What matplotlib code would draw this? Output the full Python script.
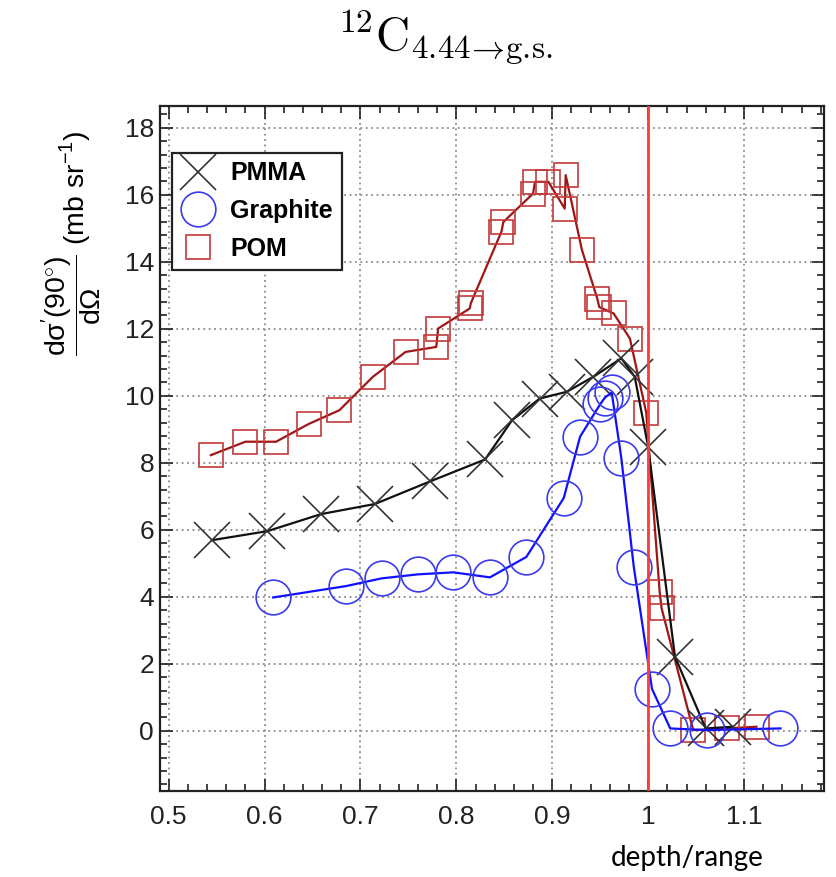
"""12C 4.44 MeV gamma line vs depth/range for three targets
"""

import numpy as np
import matplotlib
matplotlib.use('Agg')
import matplotlib.pyplot as plt
from matplotlib.ticker import MultipleLocator

plt.rcParams['font.family'] = ['Liberation Sans', 'DejaVu Sans']
plt.rcParams['mathtext.fontset'] = 'custom'
plt.rcParams['mathtext.rm'] = 'Liberation Sans'
plt.rcParams['mathtext.it'] = 'Liberation Sans:italic'

# PMMA (crosses)
pmma_x = [0.545, 0.603, 0.659, 0.715, 0.773, 0.830, 0.858, 0.887, 0.915,
          0.943, 0.972, 0.986, 1.000, 1.028, 1.060, 1.088]
pmma_y = [5.69, 5.96, 6.47, 6.77, 7.45, 8.10, 9.27, 9.92, 10.12,
          10.57, 11.12, 10.57, 8.48, 2.21, 0.07, 0.12]

# Graphite (circles)
graph_x = [0.609, 0.685, 0.722, 0.760, 0.797, 0.835, 0.873, 0.912, 0.929,
           0.950, 0.955, 0.962, 0.972, 0.985, 1.004, 1.023, 1.061, 1.138]
graph_y = [3.98, 4.32, 4.55, 4.67, 4.73, 4.58, 5.19, 6.95, 8.78,
           9.75, 9.95, 10.10, 8.15, 4.90, 1.25, 0.07, 0.02, 0.07]

# POM (squares)
pom_x = [0.544, 0.580, 0.612, 0.646, 0.678, 0.713, 0.747, 0.779, 0.781,
         0.814, 0.815, 0.847, 0.849, 0.880, 0.882, 0.896, 0.913, 0.914,
         0.931, 0.947, 0.949, 0.964, 0.981, 0.998, 1.012, 1.014, 1.047,
         1.082, 1.113]
pom_y = [8.23, 8.63, 8.63, 9.16, 9.57, 10.57, 11.31, 11.46, 12.01,
         12.61, 12.76, 14.90, 15.19, 16.04, 16.39, 16.39, 15.59, 16.59,
         14.35, 12.90, 12.65, 12.46, 11.71, 9.50, 4.15, 3.66, 0.02,
         0.07, 0.12]

fig = plt.figure(figsize=(8.36, 8.77), dpi=100)
ax = fig.add_axes([0.191, 0.098, 0.795, 0.781])

ax.plot(pom_x, pom_y, color='#a01515', lw=1.6, marker='s', ms=17,
        mfc='none', mec='#c23a3a', mew=1.2, label='POM', zorder=3)
ax.plot(pmma_x, pmma_y, color='#111111', lw=1.6, marker='x', ms=26,
        mec='#333333', mew=1.2, label='PMMA', zorder=4)
ax.plot(graph_x, graph_y, color='#1010ff', lw=1.6, marker='o', ms=25,
        mfc='none', mec='#3a3aee', mew=1.2, label='Graphite', zorder=5)

ax.axvline(1.0, color='#ff3b3b', lw=2, zorder=6)

ax.set_xlim(0.4906, 1.1837)
ax.set_ylim(-1.8, 18.65)
ax.xaxis.set_major_locator(MultipleLocator(0.1))
ax.xaxis.set_minor_locator(MultipleLocator(0.02))
ax.yaxis.set_major_locator(MultipleLocator(2))
ax.yaxis.set_minor_locator(MultipleLocator(0.4))
ax.set_xticks(np.arange(0.5, 1.15, 0.1))
ax.set_xticklabels(['0.5', '0.6', '0.7', '0.8', '0.9', '1', '1.1'])
ax.tick_params(which='both', direction='in', top=True, right=True,
               labelsize=19, width=1.2, colors='#222222')
ax.tick_params(which='major', length=9)
ax.tick_params(which='minor', length=5)
ax.tick_params(axis='x', pad=10)
ax.tick_params(axis='y', pad=4)
ax.grid(True, which='major', linestyle=(0, (1, 2)), color='#8a8a8a', lw=1.3)
for s in ax.spines.values():
    s.set_linewidth(1.6)
    s.set_color('#222222')

# legend: PMMA, Graphite, POM
h, l = ax.get_legend_handles_labels()
order = [1, 2, 0]
leg = ax.legend([h[i] for i in order], [l[i] for i in order],
                loc='upper left', bbox_to_anchor=(0.018, 0.932),
                borderaxespad=0, fancybox=False, framealpha=1,
                edgecolor='#222222', prop={'weight': 'bold', 'size': 18},
                handlelength=1.4, handletextpad=0.6, labelspacing=0.55,
                borderpad=0.35)
leg.get_frame().set_linewidth(1.6)
for line in leg.get_lines():
    line.set_linestyle('none')

fig.text(0.532, 0.958,
         r'$^{12}\mathrm{C}_{4.44\!\rightarrow\!\mathrm{g.\!s.}}$',
         ha='center', va='center', fontsize=34, math_fontfamily='cm')
fig.text(0.086, 0.723,
         r"$\dfrac{\mathrm{d\sigma'(90^{\circ})}}{\mathrm{d\Omega}}$ (mb sr$^{-1}$)",
         rotation=90, ha='center', va='center', fontsize=20.5)
fig.text(0.822, 0.022, 'depth/range', ha='center', va='center',
         fontsize=20, family=['Lato', 'DejaVu Sans'])

plt.savefig('out.png', dpi=100)
